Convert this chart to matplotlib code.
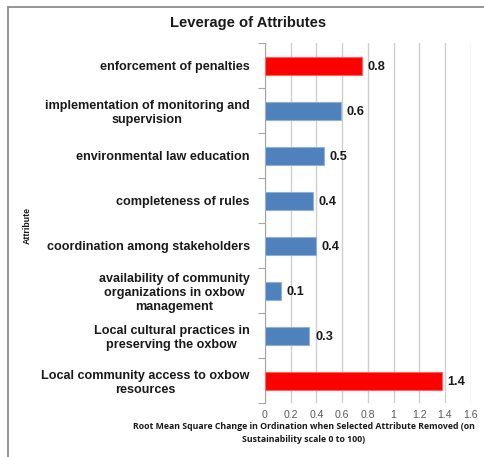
import matplotlib.pyplot as plt
from matplotlib.patches import Rectangle

plt.rcParams['font.family'] = ['Liberation Sans', 'DejaVu Sans']

# data, top to bottom as in the chart
attributes = ['enforcement of penalties',
              'implementation of monitoring and\nsupervision',
              'environmental law education',
              'completeness of rules',
              'coordination among stakeholders',
              'availability of community\norganizations in oxbow\nmanagement',
              'Local cultural practices in\npreserving the oxbow',
              'Local community access to oxbow\nresources']
rms_change = [0.752, 0.591, 0.459, 0.371, 0.397, 0.122, 0.345, 1.375]
value_labels = ['0.8', '0.6', '0.5', '0.4', '0.4', '0.1', '0.3', '1.4']
leverage = [True, False, False, False, False, False, False, True]
x_ticks = [0, 0.2, 0.4, 0.6, 0.8, 1, 1.2, 1.4, 1.6]
x_tick_labels = ['0', '0.2', '0.4', '0.6', '0.8', '1', '1.2', '1.4', '1.6']

fig = plt.figure(figsize=(4.84, 4.57), dpi=100)
ax = fig.add_axes([265/484, 1-403/457, (470.7-265)/484, 360/457])

# outer chart frame
fig.patches.append(Rectangle((8/484, 0-0.1), 1.2, 1-7/457+0.1, transform=fig.transFigure,
                             fill=False, edgecolor='#8c8c8c', linewidth=1.3))

pos = list(range(len(attributes)))
colors = ['#ff0000' if hot else '#4f81bd' for hot in leverage]
edges = ['#ff6060' if hot else '#8fb0d8' for hot in leverage]
ax.barh(pos, rms_change, height=0.4, color=colors, edgecolor=edges, linewidth=0.8, zorder=3)
for p, v, lab in zip(pos, rms_change, value_labels):
    ax.text(v + 0.045, p, lab, va='center_baseline', ha='left', fontsize=9.2,
            fontweight='bold', color='#1a1a1a')

ax.set_ylim(len(attributes) - 0.5, -0.5)
ax.set_xlim(0, 1.6)
ax.set_xticks(x_ticks)
ax.set_xticklabels(x_tick_labels, fontsize=7.6, color='#595959')
ax.tick_params(axis='x', length=0, pad=5)

ax.set_yticks(pos)
ax.set_yticklabels(attributes, fontsize=9.1, fontweight='bold', multialignment='center',
                   color='#1a1a1a', linespacing=1.2)
ax.tick_params(axis='y', length=0, pad=11)
ax.set_yticks([p + 0.5 for p in range(-1, len(attributes))], minor=True)
ax.tick_params(axis='y', which='minor', length=5, color='#a6a6a6', width=0.8)

ax.grid(axis='x', color='#cfcfcf', linewidth=1, zorder=0)
for s in ['top', 'right', 'bottom']:
    ax.spines[s].set_visible(False)
ax.spines['left'].set_color('#a6a6a6')
ax.spines['left'].set_linewidth(0.8)

fig.text(248/484, 1-23/457, 'Leverage of Attributes', ha='center', va='center',
         fontsize=10.6, fontweight='bold', color='#1a1a1a')
fig.text(27/484, 1-225/457, 'Attribute', rotation=90, ha='center', va='center',
         fontsize=6.3, fontweight='bold', color='#1a1a1a')
fig.text(304/484, 1-433/457,
         'Root Mean Square Change in Ordination when Selected Attribute Removed (on\nSustainability scale 0 to 100)',
         ha='center', va='center', fontsize=6.35, fontweight='bold', color='#1a1a1a',
         linespacing=1.5, family=['Open Sans', 'DejaVu Sans'])

fig.savefig('out.png', dpi=100)
